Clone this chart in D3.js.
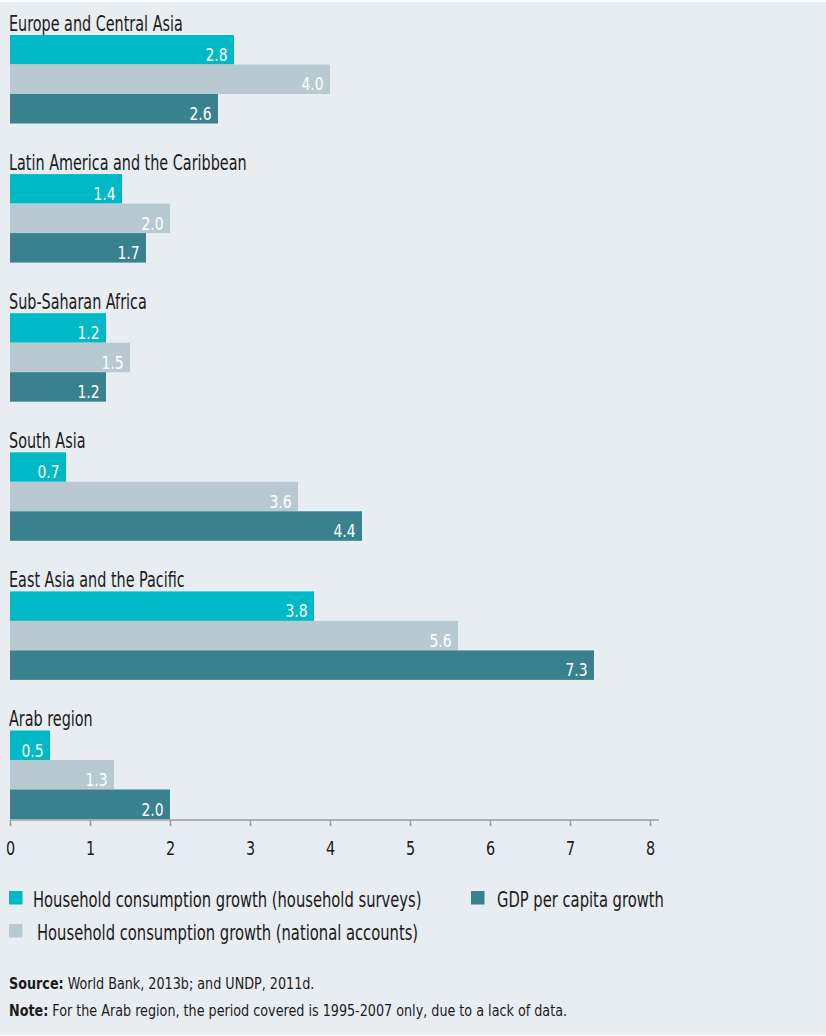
<!DOCTYPE html>
<html>
<head>
<meta charset="utf-8">
<script src="https://cdn.jsdelivr.net/npm/d3@7/dist/d3.min.js"></script>
<style>
  html, body { margin: 0; padding: 0; background: #ffffff; }
  svg { display: block; }
  text { font-family: "DejaVu Sans Condensed", "DejaVu Sans", sans-serif; }
</style>
</head>
<body>
<svg id="chart" width="826" height="1036"></svg>
<script>
// Regions, top to bottom
const regions = [
  "Europe and Central Asia",
  "Latin America and the Caribbean",
  "Sub-Saharan Africa",
  "South Asia",
  "East Asia and the Pacific",
  "Arab region"
];

// Average annual growth (%) per region
const surveyGrowth   = [2.8, 1.4, 1.2, 0.7, 3.8, 0.5]; // household consumption (household surveys)
const accountsGrowth = [4.0, 2.0, 1.5, 3.6, 5.6, 1.3]; // household consumption (national accounts)
const gdpGrowth      = [2.6, 1.7, 1.2, 4.4, 7.3, 2.0]; // GDP per capita

const seriesKeys   = ["survey", "accounts", "gdp"];
const seriesLabels = [
  "Household consumption growth (household surveys)",
  "Household consumption growth (national accounts)",
  "GDP per capita growth"
];
const seriesColors = ["#00b9c7", "#b9c9d2", "#39818f"];

const xTicks = [0, 1, 2, 3, 4, 5, 6, 7, 8];

const rows = regions.map((r, i) => ({
  region: r,
  survey: surveyGrowth[i],
  accounts: accountsGrowth[i],
  gdp: gdpGrowth[i]
}));

// place a text at (px, py) and squeeze it horizontally for a condensed look
function placeCondensed(sel, px, py, k) {
  sel.attr("x", 0).attr("y", 0)
     .attr("transform", (d, i) => {
       const X = typeof px === "function" ? px(d, i) : px;
       const Y = typeof py === "function" ? py(d, i) : py;
       return `translate(${X},${Y}) scale(${k},1)`;
     });
}

const svg = d3.select("#chart");
const W = 826, H = 1036;

// panel background
svg.append("rect")
  .attr("x", 0).attr("y", 2)
  .attr("width", W).attr("height", H - 3)
  .attr("fill", "#e8edf1");

const x = d3.scaleLinear().domain([0, 8]).range([10, 650]);

const y = d3.scaleBand()
  .domain(regions)
  .range([35, 819])
  .paddingInner(0.3638)
  .paddingOuter(0);

const ySub = d3.scaleBand()
  .domain(seriesKeys)
  .range([0, y.bandwidth()])
  .padding(0);

const color = d3.scaleOrdinal().domain(seriesKeys).range(seriesColors);

const groups = svg.append("g").selectAll("g.region")
  .data(rows)
  .join("g")
  .attr("class", "region")
  .attr("transform", d => `translate(0,${y(d.region)})`);

// region titles
groups.append("text")
  .attr("fill", "#1b1b1b")
  .attr("font-size", 20.5)
  .text(d => d.region)
  .call(placeCondensed, x(0) - 1, -4.5, 0.78);

const bars = groups.selectAll("g.bar")
  .data(d => seriesKeys.map(k => ({ key: k, value: d[k] })))
  .join("g")
  .attr("class", "bar");

bars.append("rect")
  .attr("x", x(0))
  .attr("y", d => ySub(d.key))
  .attr("width", d => x(d.value) - x(0))
  .attr("height", ySub.bandwidth())
  .attr("fill", d => color(d.key));

bars.append("text")
  .attr("text-anchor", "end")
  .attr("fill", "#ffffff")
  .attr("font-size", 18)
  .text(d => d3.format(".1f")(d.value))
  .call(placeCondensed, d => x(d.value) - 6.5, d => ySub(d.key) + ySub.bandwidth() - 3.5, 0.86);

// x axis
const axis = svg.append("g")
  .attr("transform", `translate(0,${y.range()[1] + 1})`)
  .call(d3.axisBottom(x).tickValues(xTicks).tickFormat(d3.format("d")).tickSize(6).tickSizeOuter(0).tickPadding(14));

axis.select(".domain")
  .attr("d", `M${x(0)},0H${x(8) + 9}`)
  .attr("stroke", "#9a9ea2")
  .attr("stroke-width", 1.5);
axis.selectAll(".tick line").attr("stroke", "#9a9ea2").attr("stroke-width", 1.5);
axis.selectAll(".tick text")
  .attr("fill", "#1b1b1b")
  .attr("font-size", 20)
  .attr("font-family", null)
  .attr("dy", null)
  .call(placeCondensed, 0, 35, 0.8);

// legend
const legendItems = [
  { key: "survey",   label: seriesLabels[0], lx: 9,   ly: 891, tx: 33 },
  { key: "accounts", label: seriesLabels[1], lx: 9,   ly: 924, tx: 37 },
  { key: "gdp",      label: seriesLabels[2], lx: 471, ly: 891, tx: 497 }
];
const legend = svg.append("g").selectAll("g")
  .data(legendItems)
  .join("g");
legend.append("rect")
  .attr("x", d => d.lx).attr("y", d => d.ly)
  .attr("width", 13.5).attr("height", 13.5)
  .attr("fill", d => color(d.key));
legend.append("text")
  .attr("fill", "#1b1b1b")
  .attr("font-size", 20.5)
  .text(d => d.label)
  .call(placeCondensed, d => d.tx, d => d.ly + 16, 0.8);

// source and note
const notes = [
  { bold: "Source:", rest: " World Bank, 2013b; and UNDP, 2011d.", y: 988.5 },
  { bold: "Note:", rest: " For the Arab region, the period covered is 1995-2007 only, due to a lack of data.", y: 1016 }
];
svg.append("g").selectAll("text")
  .data(notes)
  .join("text")
  .attr("font-size", 16.5)
  .attr("fill", "#1b1b1b")
  .each(function (d) {
    const t = d3.select(this);
    t.append("tspan").attr("font-weight", "bold").text(d.bold);
    t.append("tspan").text(d.rest);
  })
  .call(placeCondensed, 9, d => d.y, 0.86);
</script>
</body>
</html>
